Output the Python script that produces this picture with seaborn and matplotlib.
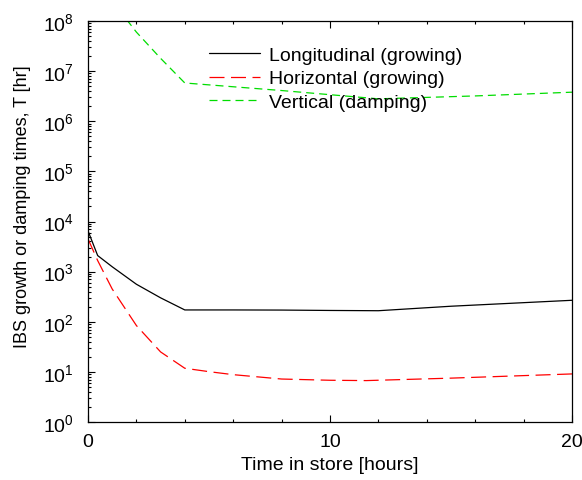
import numpy as np
import pandas as pd
import matplotlib
matplotlib.use("Agg")
import matplotlib.pyplot as plt
import matplotlib.ticker as mticker
import seaborn as sns

# values (time in hours, IBS times in hours)
t_long = [0, 0.4, 1, 2, 3, 4, 6, 8, 10, 12, 15, 20]
T_long = [6500, 2090, 1250, 560, 300, 172, 172, 171, 168, 166, 204, 268]

t_hor = [0, 0.4, 1, 2, 3, 4, 5, 6, 8, 10, 11.5, 15, 20]
T_hor = [4500, 1660, 450, 84, 25, 11.8, 10.1, 8.8, 7.2, 6.8, 6.7, 7.5, 9.1]

t_ver = [0, 1, 2, 3, 4, 8, 12, 16, 20]
T_ver = [1.0e9, 2.5e8, 6.0e7, 1.8e7, 5.8e6, 4.1e6, 2.8e6, 3.2e6, 3.8e6]

labels = ["Longitudinal (growing)", "Horizontal (growing)", "Vertical (damping)"]

sns.set_style("ticks", {"text.color": "black", "axes.labelcolor": "black",
                        "xtick.color": "black", "ytick.color": "black",
                        "axes.edgecolor": "black"})
plt.rcParams['font.family'] = ['Liberation Sans', 'DejaVu Sans']
plt.rcParams['mathtext.fontset'] = 'custom'
plt.rcParams['mathtext.rm'] = 'Liberation Sans'

fig = plt.figure(figsize=(5.82, 4.81), dpi=100)
ax = fig.add_axes([88/582, 1 - 423/481, (572-88)/582, (423-22)/481])

sns.lineplot(x=t_long, y=T_long, ax=ax, color="black", lw=0.9, label=labels[0])
sns.lineplot(x=t_hor, y=T_hor, ax=ax, color="red", lw=0.9, label=labels[1])
sns.lineplot(x=t_ver, y=T_ver, ax=ax, color="#00dd00", lw=0.9, label=labels[2])
lines = ax.get_lines()
lines[1].set_dashes([12, 5.2])
lines[2].set_dashes([6.4, 4])

ax.set_yscale("log")
ax.set_xlim(0, 20)
ax.set_ylim(1, 1e8)
ax.yaxis.set_major_locator(mticker.LogLocator(base=10, numticks=20))
ax.yaxis.set_minor_locator(mticker.LogLocator(base=10, subs=np.arange(2, 10), numticks=20))
ax.yaxis.set_minor_formatter(mticker.NullFormatter())
ax.xaxis.set_major_locator(mticker.MultipleLocator(10))
ax.xaxis.set_minor_locator(mticker.MultipleLocator(2))

ax.tick_params(axis="both", which="both", direction="in", labelsize=14, width=0.8,
               color="black", labelcolor="black")
ax.tick_params(axis="x", which="both", top=True, pad=8)
ax.tick_params(axis="y", which="both", right=False, pad=10)
ax.tick_params(which="major", length=5)
ax.tick_params(which="minor", length=2.5)
for s in ax.spines.values():
    s.set_linewidth(0.9)
    s.set_color("black")

ax.set_xlabel("Time in store [hours]", fontsize=14, color="black")
ax.set_ylabel("IBS growth or damping times, T [hr]", fontsize=13, color="black")
ax.xaxis.set_label_coords(0.5, -0.085)
ax.yaxis.set_label_coords(-0.117, 0.539)

leg = ax.legend(loc="upper left", bbox_to_anchor=(0.25, 0.937), frameon=False,
                fontsize=14, handlelength=2.6, handletextpad=0.5,
                borderpad=0, borderaxespad=0, labelspacing=0.3)
for txt in leg.get_texts():
    txt.set_color("black")

fig.savefig("out.png", dpi=100)
